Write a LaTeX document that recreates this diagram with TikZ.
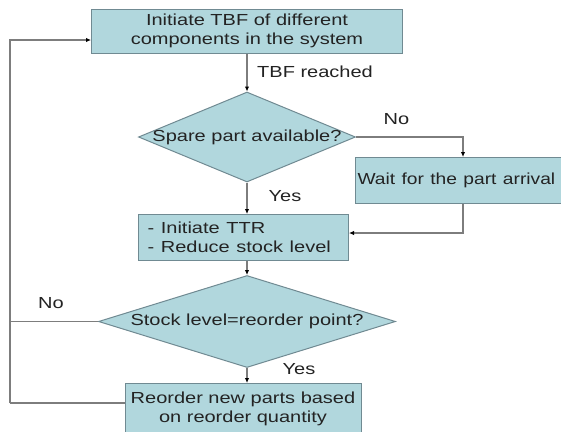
\documentclass[tikz,border=0pt]{standalone}
\usepackage{fontspec}
\setmainfont{Liberation Sans}
\usepackage{graphicx}
\usetikzlibrary{shapes.geometric,arrows.meta}
\definecolor{boxfill}{RGB}{177,215,221}
\definecolor{boxline}{RGB}{112,138,146}
\definecolor{connc}{RGB}{125,125,125}
\definecolor{txt}{RGB}{35,35,35}
\newcommand\sx[1]{\scalebox{1.25}[1]{#1}}
\begin{document}
\begin{tikzpicture}[x=1pt,y=-1pt,
  every node/.style={font=\fontsize{16}{19}\selectfont, text=txt},
  box/.style={draw=boxline, fill=boxfill, line width=1pt, rectangle, inner sep=0pt},
  dia/.style={draw=boxline, fill=boxfill, line width=1pt, diamond, inner sep=0pt},
  conn/.style={draw=connc, line width=1.2pt},
  arr/.style={conn, -{Latex[length=5pt,width=4.5pt,color=black]}},
  lbl/.style={inner sep=0pt}]
\useasboundingbox (0,0) rectangle (561,431);
\fill[white] (0,0) rectangle (561,431);
\begin{scope}
\clip (0,0) rectangle (561,431);
% nodes
\node[box, minimum width=311pt, minimum height=44pt, align=center] (b1) at (247,31)
  {\sx{Initiate TBF of different}\\\sx{components in the system}};
\node[dia, minimum width=217pt, minimum height=90pt] (d1) at (247,137)
  {\makebox[0pt]{\sx{Spare part available?}}};
\node[box, anchor=north west, minimum width=236pt, minimum height=46pt, text width=232pt, inner xsep=1.5pt, align=left] (w) at (355,157)
  {\scalebox{1.2}[1]{Wait for the part arrival}};
\node[box, anchor=north west, minimum height=46pt, text width=192pt, inner xsep=9pt, align=left] (b2) at (138,214)
  {\sx{- Initiate TTR}\\\sx{- Reduce stock level}};
\node[dia, minimum width=297pt, minimum height=92pt] (d2) at (247,321.5)
  {\makebox[0pt]{\sx{Stock level=reorder point?}}};
\node[box, anchor=north, minimum width=236pt, minimum height=50pt, align=center] (b3) at (243,383)
  {\sx{Reorder new parts based}\\\sx{on reorder quantity}};
% coordinates
\coordinate (c1) at (463,137);
\coordinate (c2) at (463,233);
\coordinate (lt) at (10,40);
\coordinate (lb) at (10,403);
% connectors
\draw[arr] (b1.south -| d1.north) -- (d1.north);
\draw[arr] (d1.south) -- (d1.south |- b2.north);
\draw[arr] (b2.south -| d2.north) -- (d2.north);
\draw[arr] (d2.south) -- (d2.south |- b3.north);
\draw[arr] (d1.east) -- (c1) -- (c1 |- w.north);
\draw[arr] (c1 |- w.south) -- (c2) -- (c2 -| b2.east);
\draw[conn] (d2.west) -- (d2.west -| lt);
\draw[conn] (lb -| b3.west) -- (lb);
\draw[arr] (lb) -- (lt) -- (lt -| b1.west);
% labels
\node[lbl, anchor=west] (l1) at (257,72) {\sx{TBF reached}};
\node[lbl] (l2) at (396.5,119) {\sx{No}};
\node[lbl] (l3) at (285,196) {\sx{Yes}};
\node[lbl] (l4) at (51,303) {\sx{No}};
\node[lbl] (l5) at (299,369) {\sx{Yes}};
\end{scope}
\end{tikzpicture}
\end{document}
